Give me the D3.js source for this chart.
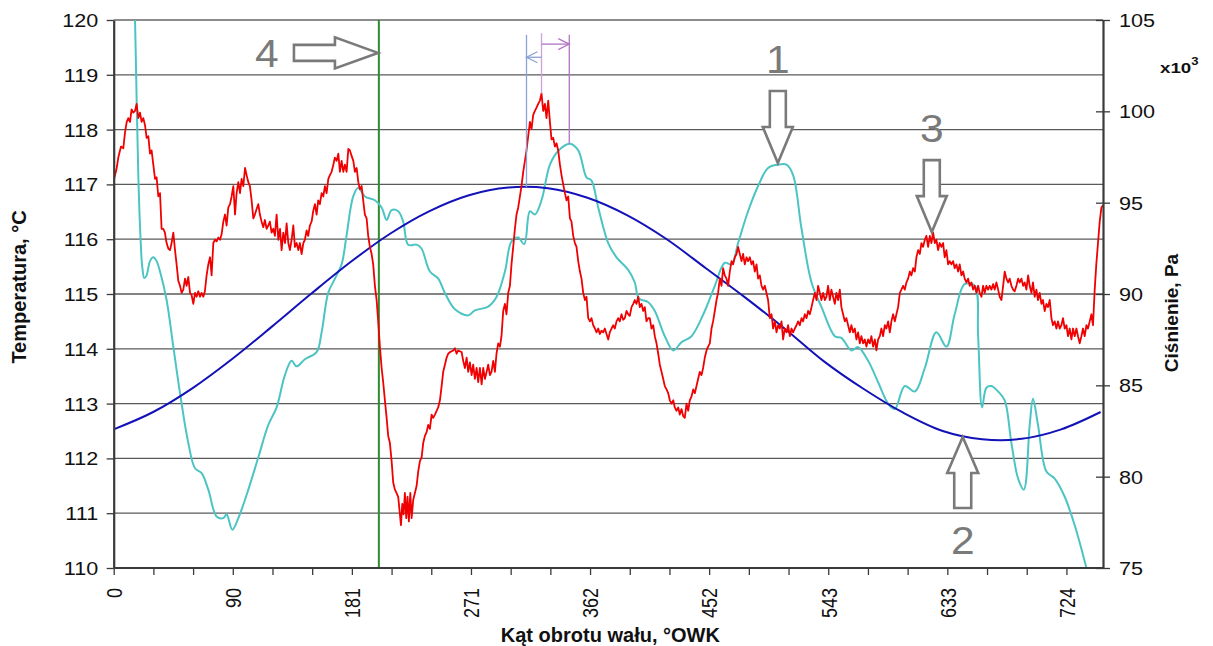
<!DOCTYPE html>
<html><head><meta charset="utf-8">
<script src="https://cdn.jsdelivr.net/npm/d3@7"></script>
<style>
html,body{margin:0;padding:0;background:#fff;}
svg{display:block;font-family:"Liberation Sans",Arial,sans-serif;}
</style></head>
<body>
<svg id="chart" width="1213" height="646"></svg>
<script>
// ---------- DATA ----------
const xLabelValues = [0, 90.5, 181, 271.5, 362, 452.5, 543, 633.5, 724];
const xTickLabels = ["0","90","181","271","362","452","543","633","724"];
const leftTicks = [110,111,112,113,114,115,116,117,118,119,120];
const rightTicks = [75,80,85,90,95,100,105];

// blue: pressure (x10^3 Pa) vs crank angle
const blueAngle = [0,30,60,90,120,150,180,210,240,270,300,330,360,390,420,450,480,510,540,570,600,630,660,690,720,750];
const bluePressure = [82.59,83.54,84.85,86.44,88.20,90.01,91.75,93.30,94.54,95.41,95.83,95.79,95.27,94.32,93.01,91.41,89.8,88.1,86.3,84.8,83.5,82.5,82.05,82.07,82.59,83.54];

// red: temperature (°C)
const redSeries = [[0,117.07],[2.3,117.30],[3.5,117.49],[5.5,117.69],[7.3,117.66],[8.6,117.95],[9.9,118.14],[11.1,118.21],[12.4,118.14],[13.6,118.37],[14.9,118.31],[16.2,118.34],[17.4,118.47],[18.7,118.21],[20,118.31],[21.2,118.14],[22.5,118.21],[23.8,118.08],[25,117.85],[26.3,117.88],[27.6,117.56],[28.8,117.62],[30.1,117.36],[31.4,117.10],[32.6,117.13],[33.9,116.78],[35.2,116.84],[36.4,116.19],[37.7,116.19],[38.9,116.12],[40.2,115.93],[41.5,115.83],[42.8,115.80],[44,115.93],[45.3,116.12],[46.6,115.80],[47.8,115.54],[49.1,115.24],[50.4,115.15],[51.6,115.02],[52.9,115.08],[54.2,115.28],[55.4,115.15],[56.7,115.31],[58,115.02],[59.2,114.98],[60.5,114.82],[61.8,115.02],[63,114.95],[64.3,115.05],[65.6,114.95],[66.8,115.02],[68.1,114.95],[69.3,115.05],[70.6,115.34],[71.9,115.54],[73.2,115.67],[74.4,115.34],[75.7,115.93],[77,115.99],[78.2,115.96],[79.5,116.03],[80.8,115.99],[82,116.09],[83.3,116.32],[84.6,116.45],[85.8,116.25],[87.1,116.58],[88.4,116.64],[89.6,116.78],[90.9,116.97],[92.2,116.45],[93.4,116.84],[94.7,117.04],[96,116.84],[97.2,117.10],[98.5,116.97],[99.8,117.30],[101,117.17],[102.3,117.04],[103.5,116.97],[104.8,116.71],[106.1,116.38],[107.3,116.45],[108.6,116.55],[109.9,116.64],[111.1,116.45],[112.4,116.32],[113.7,116.22],[114.9,116.35],[116.2,116.19],[117.5,116.25],[118.7,116.32],[120,116.12],[121.3,116.19],[122.5,116.06],[123.8,116.45],[125.1,115.99],[126.4,116.19],[127.6,115.80],[128.9,116.12],[130.2,115.93],[131.4,116.29],[132.7,115.93],[133.9,115.80],[135.2,115.99],[136.5,116.25],[137.7,115.86],[139,115.93],[140.3,115.80],[141.5,115.93],[142.8,115.73],[144.1,115.93],[145.3,115.99],[146.6,116.16],[147.8,116.06],[149.1,116.25],[150.4,116.32],[151.6,116.51],[152.9,116.64],[154.2,116.45],[155.4,116.71],[156.7,116.64],[158,116.84],[159.3,116.78],[160.5,116.97],[161.8,116.84],[163.1,117.10],[164.3,117.17],[165.6,117.23],[166.9,117.36],[168.1,117.49],[169.4,117.43],[170.7,117.56],[171.9,117.23],[173.2,117.43],[174.5,117.23],[175.7,117.36],[177,117.23],[178.3,117.65],[179.5,117.62],[180.8,117.52],[182.1,117.43],[183.3,117.23],[184.6,117.30],[185.9,117.04],[187.1,116.91],[188.4,116.97],[189.6,116.71],[190.9,116.45],[192.2,116.38],[193.4,116.06],[194.7,115.86],[196,115.73],[197.2,115.54],[198.5,115.15],[199.8,114.89],[201,114.50],[202.3,114.04],[203.6,113.65],[204.8,113.39],[206.1,113.06],[207.4,112.74],[208.6,112.41],[209.9,112.28],[211.2,111.95],[212.4,111.56],[213.7,111.43],[214.9,111.37],[216.2,111.30],[217.5,110.98],[218.3,110.78],[219.3,111.17],[220.3,110.98],[221.3,111.37],[222.3,110.91],[223.3,111.30],[224.3,110.85],[225.4,111.37],[226.4,110.91],[227.6,111.24],[228.9,111.37],[230.2,111.50],[231.4,111.76],[232.7,111.95],[234,112.02],[235.2,112.28],[236.5,112.41],[237.8,112.48],[239,112.61],[240.3,112.54],[241.6,112.80],[242.8,112.74],
[244.1,112.80],[246.6,112.93],[247.9,113.06],[249.2,113.32],[250.4,113.58],[251.7,113.71],[253,113.84],[254.2,113.91],[255.5,113.94],[258,113.97],[259.3,114.01],[260.6,113.91],[261.8,113.97],[264.4,113.94],[265.6,113.78],[266.9,113.65],[268.2,113.84],[269.4,113.58],[270.7,113.75],[272,113.52],[273.2,113.71],[274.5,113.45],[275.8,113.65],[277,113.39],[278.3,113.65],[279.6,113.35],[280.8,113.65],[282.1,113.45],[283.4,113.58],[284.6,113.71],[285.9,113.52],[287.1,113.58],[288.4,113.78],[289.7,113.58],[290.9,113.91],[292.2,114.10],[293.5,114.04],[294.7,114.23],[296,114.69],[297.3,114.82],[298.5,114.63],[299.8,115.02],[301.1,115.15],[302.3,115.54],[303.6,115.86],[304.9,116.19],[306.1,116.45],[307.4,116.58],[308.7,116.78],[309.9,116.97],[311.2,117.23],[312.5,117.43],[313.7,117.62],[315,117.88],[316.3,118.14],[317.5,118.01],[318.8,118.27],[320.1,118.34],[321.3,118.40],[322.6,118.47],[323.9,118.53],[325.1,118.66],[326.4,118.34],[327.7,118.47],[328.9,118.21],[330.2,118.53],[331.5,118.14],[332.7,117.82],[334,117.85],[335.3,117.69],[336.5,117.75],[337.8,117.62],[339.1,117.36],[340.3,117.17],[341.6,117.00],[342.9,116.84],[344.1,116.71],[345.4,116.78],[346.7,116.38],[347.9,116.32],[349.2,116.06],[350.5,115.93],[351.7,115.86],[353,115.60],[354.3,115.41],[355.5,115.28],[356.8,115.02],[358.1,114.89],[359.3,114.95],[360.6,114.56],[361.9,114.50],[363.1,114.56],[364.4,114.43],[365.7,114.37],[366.9,114.30],[368.2,114.37],[369.4,114.27],[370.7,114.33],[372,114.30],[373.2,114.37],[374.5,114.27],[375.8,114.17],[377,114.30],[378.3,114.37],[379.6,114.43],[380.8,114.37],[382.1,114.50],[383.4,114.56],[384.6,114.50],[385.9,114.63],[387.2,114.53],[388.4,114.56],[389.7,114.69],[391,114.63],[392.2,114.60],[393.5,114.76],[394.8,114.82],[396,114.89],[397.3,114.82],[398.6,114.95],[399.8,114.76],[401.1,114.82],[402.4,114.69],[403.6,114.76],[404.9,114.50],[406.2,114.56],[407.4,114.56],[408.7,114.37],[410,114.43],[411.2,114.23],[412.5,114.10],[413.8,113.91],[415,113.71],[416.3,113.58],[417.6,113.45],[418.8,113.32],[420.1,113.26],[421.4,113.19],[422.6,113.06],[423.9,113.00],[425.2,113.06],[426.4,112.93],[427.7,112.87],[429,112.93],[430.2,112.80],[431.5,112.90],[432.8,112.77],[434,112.74],[435.3,113.00],[436.6,112.87],[437.8,113.06],[439.1,113.13],[440.4,113.26],[441.6,113.19],[442.9,113.32],[444.1,113.45],[445.4,113.58],[446.7,113.52],[447.9,113.65],[449.2,113.84],[450.5,113.97],[451.7,114.04],[453,114.10],[454.3,114.37],[455.5,114.50],[456.8,114.69],[458.1,114.89],[459.3,115.02],[460.6,115.28],[461.9,115.15],[463.1,115.47],[464.4,115.34],[465.7,115.28],[466.9,115.15],[468.2,115.41],[469.5,115.60],[470.7,115.54],[472,115.67],[473.3,115.73],[474.5,115.86],[475.8,115.73],[477.1,115.60],[478.3,115.73],[479.6,115.54],[480.9,115.67],[482.1,115.60],[483.4,115.67],[484.7,115.54],[485.9,115.60],[487.2,115.41],[488.5,115.54],[489.7,115.28],[491,115.34],[492.3,115.15],[493.5,115.08],
[494.8,115.15],[497.3,114.89],[498.6,114.56],[499.9,114.63],[501.1,114.37],[502.4,114.50],[503.7,114.30],[504.9,114.43],[506.2,114.37],[507.5,114.50],[508.7,114.17],[510,114.37],[511.3,114.30],[512.5,114.43],[513.8,114.23],[515.1,114.37],[516.3,114.30],[517.6,114.37],[518.9,114.43],[520.1,114.50],[521.4,114.43],[522.7,114.56],[523.9,114.50],[525.2,114.63],[526.5,114.56],[527.7,114.69],[529,114.63],[530.3,114.76],[531.5,114.89],[532.8,115.02],[534.1,114.89],[535.3,115.15],[536.6,115.02],[537.8,114.89],[539.1,115.02],[540.4,114.89],[541.6,114.95],[542.9,115.15],[544.2,114.89],[545.4,115.08],[546.7,114.95],[548,114.82],[549.2,115.02],[550.5,114.89],[551.8,115.08],[553,114.76],[554.3,114.63],[555.6,114.50],[556.8,114.56],[558.1,114.43],[559.4,114.30],[560.6,114.43],[561.9,114.30],[563.2,114.37],[564.4,114.17],[565.7,114.30],[567,114.10],[568.2,114.23],[569.5,114.10],[570.8,114.17],[572,114.04],[573.3,114.17],[574.6,114.10],[575.8,114.23],[577.1,114.04],[578.4,114.17],[579.6,113.97],[580.9,114.17],[582.2,114.23],[583.4,114.37],[584.7,114.23],[586,114.43],[587.2,114.37],[588.5,114.50],[589.8,114.30],[591,114.50],[592.3,114.63],[593.6,114.50],[594.8,114.63],[596.1,114.76],[597.4,115.02],[598.6,115.08],[599.9,115.15],[601.2,115.08],[602.4,115.21],[603.7,115.28],[605,115.41],[606.2,115.34],[607.5,115.47],[608.8,115.41],[610,115.67],[611.3,115.80],[612.6,115.73],[613.8,115.93],[615.1,115.86],[616.4,115.99],[617.6,116.06],[618.9,115.86],[620.2,116.06],[621.4,115.93],[622.7,116.12],[624,115.93],[625.2,115.99],[626.5,115.80],[627.7,115.93],[629,115.86],[630.3,115.93],[631.5,115.67],[632.8,115.80],[634.1,115.54],[635.3,115.60],[636.6,115.54],[637.9,115.60],[639.1,115.47],[640.4,115.54],[641.7,115.41],[642.9,115.54],[644.2,115.34],[645.5,115.41],[646.7,115.28],[648,115.21],[649.3,115.28],[650.5,115.15],[651.8,115.21],[653.1,115.08],[654.3,115.15],[655.6,115.02],[656.9,115.15],[658.1,115.02],[659.4,114.95],[660.7,115.15],[661.9,115.02],[663.2,115.15],[664.5,115.08],[665.7,115.15],[667,115.08],[668.3,115.18],[669.5,115.08],[670.8,115.21],[672.1,115.08],[673.3,114.95],[674.6,114.89],[675.9,115.15],[677.1,115.41],[678.4,115.28],[679.7,115.21],[680.9,115.28],[682.2,115.15],[683.5,115.08],[684.7,115.05],[686,115.15],[687.3,115.28],[688.5,115.21],[689.8,115.28],[691.1,115.15],[692.3,115.21],[693.6,115.08],[694.9,115.34],[696.1,115.15],[697.4,115.02],[698.6,115.21],[699.9,114.95],[701.2,115.08],[702.4,114.89],[703.7,115.02],[705,114.82],[706.2,114.89],[707.5,114.69],[708.8,114.82],[710,114.76],[711.3,114.89],[712.6,114.56],[713.8,114.43],[715.1,114.50],[716.4,114.37],[717.6,114.50],[718.9,114.37],[720.2,114.43],[721.4,114.56],[722.7,114.37],[724,114.43],[725.2,114.23],[726.5,114.37],[727.8,114.17],[729,114.37],[730.3,114.23],[731.6,114.37],[732.8,114.23],[734.1,114.10],[735.4,114.23],[736.6,114.37],[737.9,114.23],[739.2,114.43],[740.4,114.37],[741.7,114.50],[743,114.63],[744.2,114.43],[745.5,115.08],[746.7,115.54],[748,115.93],[749.3,116.32],[750.6,116.58],[751.8,116.62]];

// cyan: second trace (°C)
const cyanSeries = [[14.5,121.5],[16.2,120.0],[17.5,118.47],[18.7,117.17],[20.3,116.06],[21.8,115.47],[23.3,115.29],[25,115.34],[27.6,115.60],[30.1,115.67],[32.6,115.60],[35.2,115.41],[40.2,114.89],[45.3,114.04],[50.4,113.19],[56.7,112.28],[61.8,111.82],[66.8,111.73],[71.9,111.43],[78.2,110.94],[83.3,110.91],[85.8,110.98],[90.1,110.70],[94.7,110.91],[102.3,111.43],[109.9,112.02],[117.5,112.61],[123.8,112.93],[130.1,113.52],[135.2,113.78],[139,113.68],[145.3,113.81],[154.2,113.94],[158,114.30],[163,115.02],[168.1,115.28],[173.2,115.54],[176.9,116.06],[182,116.78],[185.8,116.94],[190.9,116.78],[198.5,116.71],[203.6,116.58],[207.4,116.35],[211.2,116.53],[216.2,116.51],[220,116.32],[223.8,115.90],[230.2,115.90],[233.9,115.83],[240.3,115.41],[246.6,115.28],[251.7,115.02],[259.3,114.72],[269.4,114.61],[274.5,114.70],[284.6,114.77],[291,114.95],[297.3,115.41],[302.3,115.96],[307.4,116.03],[312,115.91],[316.3,116.51],[320.1,116.45],[325.1,116.71],[331.5,117.36],[337.8,117.61],[346.7,117.74],[353,117.62],[359.3,117.13],[363.1,117.07],[368.2,116.58],[375.8,115.93],[382.1,115.67],[391,115.44],[396,115.21],[399.1,114.92],[406.2,114.85],[411.2,114.69],[418.8,114.23],[425.2,113.97],[431.5,114.12],[439.1,114.23],[449.2,114.69],[456.8,115.15],[464.4,115.57],[469.5,115.54],[474.5,115.93],[482.1,116.51],[489.7,116.97],[497.3,117.30],[504.9,117.36],[511.3,117.36],[516.3,117.17],[522.7,116.19],[530.3,115.21],[537.9,114.76],[548,114.23],[553,114.20],[560.6,113.97],[565.7,114.03],[573.3,113.78],[580.9,113.39],[588.5,113.00],[593.6,112.90],[601.2,113.32],[608.8,113.22],[616.4,113.65],[625.2,114.30],[632.8,114.04],[639.1,114.63],[646.7,115.18],[654.3,115.15],[656.9,114.23],[659.9,112.93],[663.2,113.29],[667,113.32],[672.1,113.22],[677.1,113.06],[682.2,112.28],[687.3,111.63],[691.6,111.43],[696.1,112.61],[698.6,113.09],[702.4,112.61],[708.8,111.76],[715.1,111.63],[722.7,111.30],[730.3,110.78],[739.2,110.0],[744.2,109.5]];

// green vertical markers (crank angle, temperature range)
const greenMarkers = [{x:0, lo:110, hi:111}, {x:201.5, lo:110, hi:120}];

// measurement lines at top (angle, top temp, bottom temp)
const measureLines = [
  {x:313.7, top:119.73, bottom:116.95, kind:"blue"},
  {x:325.1, top:119.76, bottom:118.66, kind:"lilac"},
  {x:346.2, top:119.73, bottom:117.74, kind:"purple"}
];
const measureArrows = [
  {from:325.1, to:346.2, y:119.56, kind:"purple"},
  {from:325.1, to:313.7, y:119.32, kind:"blue"}
];

// callout arrows (tip angle, tip temperature, label, direction)
const callouts = [
  {label:"1", x:504.7, y:117.39, dir:"down"},
  {label:"3", x:621.7, y:116.13, dir:"down"},
  {label:"2", x:645.2, y:112.39, dir:"up"},
  {label:"4", x:200.8, y:119.40, dir:"right"}
];

// ---------- DRAW ----------
const svg = d3.select("#chart");
const L = 113.7, R = 1103, T = 20, B = 568;
const x = d3.scaleLinear().domain([0, 751.8]).range([L, R]);
const yL = d3.scaleLinear().domain([110, 120]).range([B, T]);
const yR = d3.scaleLinear().domain([75, 105]).range([B, T]);
const SX = 1.2; // horizontal stretch of the original lettering

svg.append("defs").append("clipPath").attr("id","plotclip")
  .append("rect").attr("x", L).attr("y", T).attr("width", R - L).attr("height", B - T);

// gridlines
svg.append("g").selectAll("line").data(leftTicks.filter(v => v > 110 && v < 120)).join("line")
  .attr("x1", L).attr("x2", R).attr("y1", d => yL(d)).attr("y2", d => yL(d))
  .attr("stroke", "#5a5a5a").attr("stroke-width", 1.3);
// top border
svg.append("line").attr("x1", L).attr("x2", R).attr("y1", T).attr("y2", T)
  .attr("stroke", "#8c8c8c").attr("stroke-width", 2.2);

const plot = svg.append("g").attr("clip-path", "url(#plotclip)");

// green markers
plot.selectAll("line.green").data(greenMarkers).join("line").attr("class","green")
  .attr("x1", d => x(d.x)).attr("x2", d => x(d.x))
  .attr("y1", d => yL(d.lo)).attr("y2", d => yL(d.hi))
  .attr("stroke", "#2e8b2e").attr("stroke-width", 2);

// cyan
plot.append("path").datum(cyanSeries)
  .attr("d", d3.line().x(d => x(d[0])).y(d => yL(d[1])).curve(d3.curveCatmullRom.alpha(0.5)))
  .attr("fill","none").attr("stroke","#4cc4c4").attr("stroke-width", 2);

// blue
plot.append("path").datum(blueAngle.map((a,i) => [a, bluePressure[i]]))
  .attr("d", d3.line().x(d => x(d[0])).y(d => yR(d[1])).curve(d3.curveCatmullRom.alpha(0.5)))
  .attr("fill","none").attr("stroke","#1212b8").attr("stroke-width", 2);

// red
plot.append("path").datum(redSeries)
  .attr("d", d3.line().x(d => x(d[0])).y(d => yL(d[1])))
  .attr("fill","none").attr("stroke","#f00000").attr("stroke-width", 1.8).attr("stroke-linejoin","round");

// measurement lines
const mColor = {blue:"#8aa2d6", lilac:"#c9a3d9", purple:"#b374c6"};
svg.append("g").selectAll("line").data(measureLines).join("line")
  .attr("x1", d => x(d.x)).attr("x2", d => x(d.x))
  .attr("y1", d => yL(d.top)).attr("y2", d => yL(d.bottom))
  .attr("stroke", d => mColor[d.kind]).attr("stroke-width", 1.3);
const ma = svg.append("g");
measureArrows.forEach(a => {
  const x0 = x(a.from), x1 = x(a.to), yy = yL(a.y);
  const s = Math.sign(x1 - x0);
  ma.append("line").attr("x1", x0).attr("x2", x1).attr("y1", yy).attr("y2", yy)
    .attr("stroke", mColor[a.kind]).attr("stroke-width", 1.3);
  ma.append("path").attr("d", `M${x1 - s*11},${yy - 5.5}L${x1},${yy}L${x1 - s*11},${yy + 5.5}`)
    .attr("fill","none").attr("stroke", mColor[a.kind]).attr("stroke-width", 1.3);
});

// axes
const fontTick = 18;
const xTickValues = d3.range(0, 25).map(i => i * 90.5 / 3);
const gx = svg.append("g").attr("transform", `translate(0,${B})`)
  .call(d3.axisBottom(x).tickValues(xTickValues).tickSizeInner(7).tickSizeOuter(0)
    .tickFormat((d,i) => i % 3 === 0 ? xTickLabels[i/3] : ""));
gx.select(".domain").attr("stroke","#3a3a3a").attr("stroke-width",2.2).attr("d", `M${L},0H${R}`);
gx.selectAll(".tick line").attr("stroke","#3a3a3a").attr("stroke-width",1.3);
gx.selectAll(".tick text")
  .attr("transform", `scale(${SX},1) rotate(-90)`)
  .attr("x", -20).attr("y", 0).attr("dy", "0.36em")
  .attr("text-anchor","end").attr("font-size", fontTick).attr("fill","#111")
  .attr("font-family","Liberation Sans, Arial, sans-serif");

const gyl = svg.append("g").attr("transform", `translate(${L},0)`)
  .call(d3.axisLeft(yL).tickValues(leftTicks).tickSizeInner(7).tickSizeOuter(0).tickFormat(d3.format("d")));
gyl.select(".domain").attr("stroke","#3a3a3a").attr("stroke-width",2.2);
gyl.selectAll(".tick line").attr("stroke","#3a3a3a").attr("stroke-width",1.3);
gyl.selectAll(".tick text")
  .attr("transform", `scale(${SX},1)`).attr("x", -15.5 / SX).attr("dy","0.36em")
  .attr("font-size", fontTick).attr("fill","#111").attr("font-family","Liberation Sans, Arial, sans-serif");

const gyr = svg.append("g").attr("transform", `translate(${R},0)`)
  .call(d3.axisRight(yR).tickValues(rightTicks).tickSizeInner(7).tickSizeOuter(0).tickFormat(d3.format("d")));
gyr.select(".domain").attr("stroke","#3a3a3a").attr("stroke-width",2.2);
gyr.selectAll(".tick line").attr("x1", -7).attr("stroke","#3a3a3a").attr("stroke-width",1.3);
gyr.selectAll(".tick text")
  .attr("transform", `scale(${SX},1)`).attr("x", 16 / SX).attr("dy","0.36em")
  .attr("font-size", fontTick).attr("fill","#111").attr("font-family","Liberation Sans, Arial, sans-serif");

// titles
svg.append("text").attr("transform","translate(25.5,287) rotate(-90)")
  .attr("text-anchor","middle").attr("font-weight","bold").attr("font-size",20).attr("fill","#111")
  .text("Temperatura, °C");
svg.append("text").attr("transform","translate(1178,313) rotate(-90)")
  .attr("text-anchor","middle").attr("font-weight","bold").attr("font-size",19).attr("fill","#111")
  .text("Ciśnienie, Pa");
svg.append("text").attr("x", (L + R) / 2 + 2).attr("y", 642)
  .attr("text-anchor","middle").attr("font-weight","bold").attr("font-size",20).attr("fill","#111")
  .text("Kąt obrotu wału, °OWK");
const mult = svg.append("text").attr("transform", `translate(1160,73) scale(1.25,1)`)
  .attr("font-weight","bold").attr("font-size",15).attr("fill","#111");
mult.append("tspan").text("x10");
mult.append("tspan").attr("dy",-8).attr("font-size",10.5).text("3");

// callout arrows
const arrowShape = {
  down: [[0,0],[-15,-36],[-8,-36],[-8,-72],[8,-72],[8,-36],[15,-36]],
  up: [[0,0],[-15.5,36],[-8.5,36],[-8.5,71],[8.5,71],[8.5,36],[15.5,36]],
  right: [[0,0],[-43,-15.5],[-43,-8],[-84,-8],[-84,8],[-43,8],[-43,15.5]]
};
const labelOffset = {down:[0,-104], up:[0,103], right:[-111,0]};
const ca = svg.append("g");
callouts.forEach(c => {
  const tx = x(c.x), ty = yL(c.y);
  ca.append("path").attr("d", "M" + arrowShape[c.dir].map(p => `${tx + p[0]},${ty + p[1]}`).join("L") + "Z")
    .attr("fill","#fff").attr("stroke","#7a7a7a").attr("stroke-width",2.6).attr("stroke-linejoin","miter");
  const o = labelOffset[c.dir];
  ca.append("text").attr("transform", `translate(${tx + o[0]},${ty + o[1]}) scale(1.12,1)`)
    .attr("text-anchor","middle").attr("dy","0.36em").attr("font-size",38).attr("fill","#7a7a7a")
    .text(c.label);
});
</script>
</body></html>
